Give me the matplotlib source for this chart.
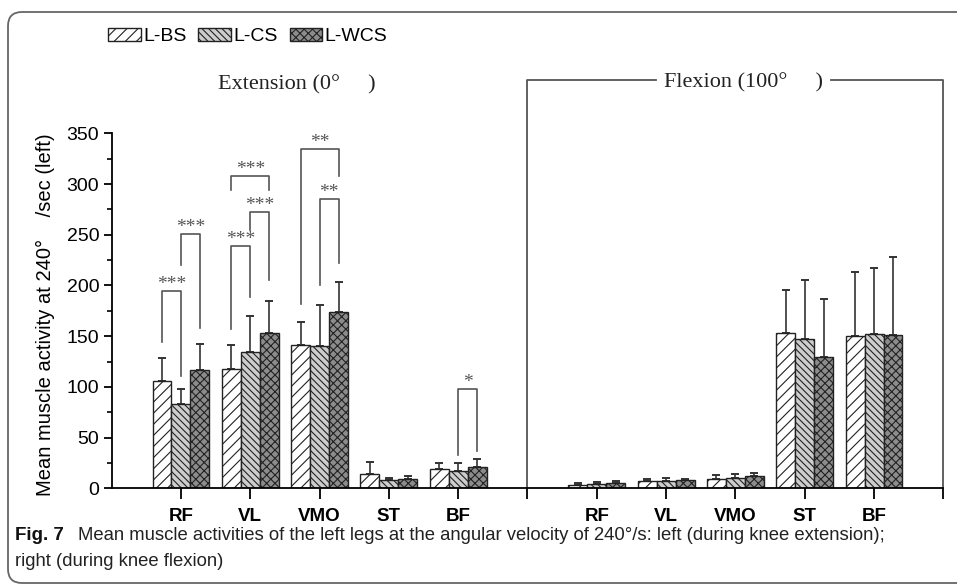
import matplotlib
matplotlib.use("Agg")
import matplotlib.pyplot as plt
import numpy as np
from matplotlib.patches import Patch, FancyBboxPatch
from matplotlib.transforms import IdentityTransform

# muscles, left block = extension, right block = flexion
muscles = ["RF", "VL", "VMO", "ST", "BF"]
series = ["L-BS", "L-CS", "L-WCS"]

ext_bs = [106, 118, 141.5, 14, 19]
ext_cs = [83, 134, 140.5, 8, 17.5]
ext_wcs = [117, 153.5, 173.5, 9, 21]
ext_bs_sd = [22, 23.5, 22, 11.5, 6]
ext_cs_sd = [14.5, 36, 40.5, 2, 7.5]
ext_wcs_sd = [25.5, 31, 29.5, 3, 7.5]

flx_bs = [3, 7, 9, 153.5, 150.5]
flx_cs = [4, 7, 10, 147.5, 152.5]
flx_wcs = [5.5, 8, 12, 129, 151.5]
flx_bs_sd = [2, 2, 4, 42, 63]
flx_cs_sd = [2.5, 3, 4, 58, 65]
flx_wcs_sd = [1.5, 1, 3, 57.5, 76.5]

# significance brackets: (muscle index, bar a, bar b, top, leg a bottom, leg b bottom, label)
sig = [
    (0, 0, 1, 194.5, 144, 110.5, "***"),
    (0, 1, 2, 251, 220, 158, "***"),
    (1, 0, 1, 239, 157, 189, "***"),
    (1, 1, 2, 272, 255, 205, "***"),
    (1, 0, 2, 308, 294, 294, "***"),
    (2, 0, 2, 335, 182, 308, "**"),
    (2, 1, 2, 285, 200, 222, "**"),
    (4, 1, 2, 97.5, 33, 37, "*"),
]

plt.rcParams["font.family"] = ["Liberation Sans", "DejaVu Sans"]
plt.rcParams["hatch.linewidth"] = 0.8

fig = plt.figure(figsize=(9.57, 5.84), dpi=100)
ax = fig.add_axes([0.1167, 0.1639, 0.869, 0.6078])

pos = np.array([0, 1, 2, 3, 4, 6, 7, 8, 9, 10])
w = 0.274
means = [ext_bs + flx_bs, ext_cs + flx_cs, ext_wcs + flx_wcs]
sds = [ext_bs_sd + flx_bs_sd, ext_cs_sd + flx_cs_sd, ext_wcs_sd + flx_wcs_sd]
faces = ["white", "#cdcdcd", "#8c8c8c"]
hatches = ["///", "\\\\\\\\\\", "xxxx"]

for i in range(3):
    x = pos + (i - 1) * w
    ax.bar(x, means[i], width=w, color=faces[i], edgecolor="#222222",
           hatch=hatches[i], linewidth=1.0, zorder=2)
    ax.errorbar(x, means[i], yerr=[np.zeros(len(pos)), sds[i]], fmt="none",
                ecolor="#333333", elinewidth=1.2, capsize=2.8, capthick=1.4, zorder=1)

# significance brackets
for g, a, b, top, ya, yb, lab in sig:
    xa = g + (a - 1) * w
    xb = g + (b - 1) * w
    ax.plot([xa, xa, xb, xb], [ya, top, top, yb], color="#555555", lw=1.2,
            clip_on=False, zorder=3)
    ax.text((xa + xb) / 2, top + 2, lab, family="Liberation Serif",
            fontsize=14, color="#555555", ha="center", va="baseline")

# block titles and the flexion frame
ax.text(1.67, 398, "Extension (0°     )", family="Liberation Serif", fontsize=16,
        ha="center", va="center", color="#222222")
ax.text(8.12, 400, "Flexion (100°     )", family="Liberation Serif", fontsize=16,
        ha="center", va="center", color="#222222")
ax.plot([6.86, 5, 5], [402.7, 402.7, 0], color="#555555", lw=1.3, clip_on=False)
ax.plot([9.38, 11, 11], [402.7, 402.7, 0], color="#555555", lw=1.3, clip_on=False)

ax.set_xlim(-1, 11)
ax.set_ylim(0, 350)
ax.spines["top"].set_visible(False)
ax.spines["right"].set_visible(False)
ax.spines["left"].set_linewidth(1.3)
ax.spines["bottom"].set_linewidth(1.3)

ax.set_yticks(np.arange(0, 351, 50))
ax.set_yticks(np.arange(25, 350, 50), minor=True)
ax.tick_params(axis="y", which="major", length=6, width=1.3, labelsize=14, pad=3)
ax.tick_params(axis="y", which="minor", length=3.5, width=1.2)

ax.set_xticks(np.arange(0, 12))
ax.set_xticklabels(muscles + [""] + muscles + [""])
ax.tick_params(axis="x", length=8, width=1.3, pad=6)
for t in ax.get_xticklabels():
    t.set_fontweight("bold")
    t.set_fontsize(13.5)

ax.set_ylabel("Mean muscle activity at 240°    /sec (left)", fontsize=14.5)
ax.yaxis.set_label_coords(-0.068, 0.49)

handles = [Patch(facecolor=faces[i], edgecolor="#222222", hatch=hatches[i], linewidth=1.0)
           for i in range(3)]
fig.legend(handles, series, loc="center", bbox_to_anchor=(0.259, 0.937), ncol=3,
           frameon=False, fontsize=14, handlelength=1.65, handleheight=0.6,
           handletextpad=0.15, columnspacing=0.6)

# caption
fig.text(15 / 957, 1 - 536 / 584, "Fig. 7", fontweight="bold", fontsize=13.5,
         va="center", color="#111111")
fig.text(78 / 957, 1 - 536 / 584,
         "Mean muscle activities of the left legs at the angular velocity of 240°/s: left (during knee extension);",
         fontsize=13.3, va="center", color="#222222")
fig.text(15 / 957, 1 - 562 / 584, "right (during knee flexion)",
         fontsize=13.3, va="center", color="#222222")

# rounded frame around the figure
frame = FancyBboxPatch((8, 1), 1000, 571, boxstyle="round,pad=0,rounding_size=14",
                       transform=IdentityTransform(), facecolor="none",
                       edgecolor="#666666", linewidth=1.3)
fig.patches.append(frame)

fig.savefig("out.png", dpi=100)
